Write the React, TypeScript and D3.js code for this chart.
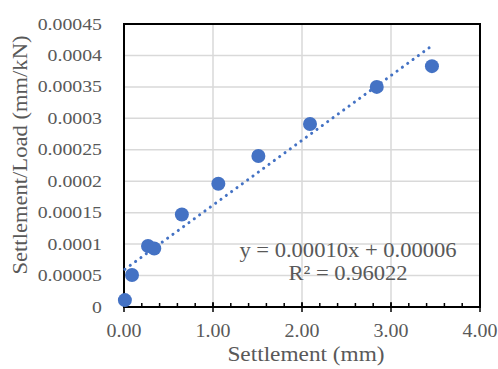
import React from "react";
import * as d3 from "d3";

// Settlement (mm) vs settlement/load (mm/kN) measurements
const settlement = [0.01, 0.09, 0.27, 0.34, 0.65, 1.06, 1.51, 2.09, 2.84, 3.46];
const ratio = [0.000011, 0.000051, 0.000097, 0.000093, 0.000147, 0.000196, 0.00024, 0.000291, 0.00035, 0.000383];

const xTicks = [0, 1, 2, 3, 4];
const yTicks = [0, 0.00005, 0.0001, 0.00015, 0.0002, 0.00025, 0.0003, 0.00035, 0.0004, 0.00045];
const yTickLabels = ["0", "0.00005", "0.0001", "0.00015", "0.0002", "0.00025", "0.0003", "0.00035", "0.0004", "0.00045"];

const equationText = "y = 0.00010x + 0.00006";
const r2Text = "R² = 0.96022";

const W = 498;
const H = 369;
const plot = { left: 124, right: 480, top: 24, bottom: 307 };
const FONT = "'Liberation Serif', 'Times New Roman', serif";
const GREY = "#595959";
const BLUE = "#4472C4";

function Label(props: {
  x: number;
  y: number;
  size: number;
  sx?: number;
  anchor?: "start" | "middle" | "end";
  rotate?: boolean;
  children: React.ReactNode;
}) {
  const { x, y, size, sx = 1.1, anchor = "middle", rotate, children } = props;
  const t = rotate
    ? `translate(${x},${y}) rotate(-90) scale(${sx},1)`
    : `translate(${x},${y}) scale(${sx},1)`;
  return (
    <text transform={t} textAnchor={anchor} fontFamily={FONT} fontSize={size} fill={GREY}>
      {children}
    </text>
  );
}

export default function App() {
  const x = d3.scaleLinear().domain([0, 4]).range([plot.left, plot.right]);
  const y = d3.scaleLinear().domain([0, 0.00045]).range([plot.bottom, plot.top]);

  // least-squares linear trend
  const mx = d3.mean(settlement)!;
  const my = d3.mean(ratio)!;
  const sxy = d3.sum(settlement, (v, i) => (v - mx) * (ratio[i] - my));
  const sxx = d3.sum(settlement, (v) => (v - mx) * (v - mx));
  const slope = sxy / sxx;
  const intercept = my - slope * mx;
  const xMin = d3.min(settlement)!;
  const xMax = d3.max(settlement)!;
  const trend = d3.line<number>().x((v) => x(v)).y((v) => y(intercept + slope * v))([xMin, xMax]);

  const minorTicks = d3.range(0, 4.0001, 0.2);

  return (
    <svg width={W} height={H} style={{ position: "absolute", left: 0, top: 0, background: "#fff" }}>
      {/* gridlines */}
      {yTicks.map((t) => (
        <line key={"gy" + t} x1={plot.left} x2={plot.right} y1={y(t)} y2={y(t)} stroke="#d9d9d9" strokeWidth={1.5} />
      ))}
      {xTicks.map((t) => (
        <line key={"gx" + t} x1={x(t)} x2={x(t)} y1={plot.top} y2={plot.bottom} stroke="#d9d9d9" strokeWidth={1.5} />
      ))}

      {/* plot frame */}
      <rect
        x={plot.left}
        y={plot.top}
        width={plot.right - plot.left}
        height={plot.bottom - plot.top}
        fill="none"
        stroke="#000"
        strokeWidth={2}
      />

      {/* x axis ticks */}
      {minorTicks.map((t) => (
        <line key={"mt" + t} x1={x(t)} x2={x(t)} y1={plot.bottom} y2={plot.bottom - 4} stroke="#000" strokeWidth={1.5} />
      ))}
      {xTicks.map((t) => (
        <line key={"Mt" + t} x1={x(t)} x2={x(t)} y1={plot.bottom - 5} y2={plot.bottom + 5} stroke="#000" strokeWidth={1.5} />
      ))}

      {/* trendline */}
      <path d={trend ?? ""} fill="none" stroke={BLUE} strokeWidth={3} strokeDasharray="0.1 6.5" strokeLinecap="round" />

      {/* data points */}
      {settlement.map((v, i) => (
        <circle key={"p" + i} cx={x(v)} cy={y(ratio[i])} r={7} fill={BLUE} />
      ))}

      {/* tick labels */}
      {yTicks.map((t, i) => (
        <Label key={"yl" + t} x={102} y={y(t) + 5.5} size={16.5} sx={1.2} anchor="end">
          {yTickLabels[i]}
        </Label>
      ))}
      {xTicks.map((t) => (
        <Label key={"xl" + t} x={x(t)} y={337} size={19} sx={1.05}>
          {d3.format(".2f")(t)}
        </Label>
      ))}

      {/* axis titles */}
      <Label x={306} y={361} size={21} sx={1.11}>
        Settlement (mm)
      </Label>
      <Label x={27} y={155} size={20} sx={1.13} rotate>
        Settlement/Load (mm/kN)
      </Label>

      {/* trendline equation */}
      <Label x={348} y={256.5} size={21.5} sx={1.05}>
        {equationText}
      </Label>
      <Label x={348} y={280} size={21.5} sx={1.05}>
        {r2Text}
      </Label>
    </svg>
  );
}
